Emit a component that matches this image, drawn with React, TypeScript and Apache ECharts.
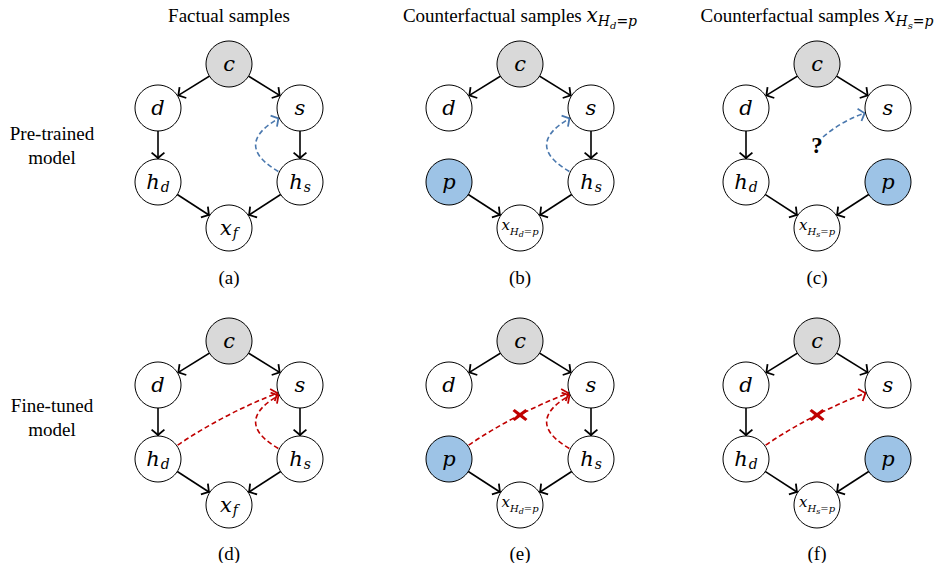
import React, { useEffect, useRef } from "react";
import * as echarts from "echarts";

const W = 941;
const H = 563;

// ---------- texts ----------
const columnTitles = [
  "Factual samples",
  "Counterfactual samples {mx|x}{ms|H}{mss|d}{ms|=p}",
  "Counterfactual samples {mx|x}{ms|H}{mss|s}{ms|=p}",
];
const rowNames = ["Pre-trained\nmodel", "Fine-tuned\nmodel"];
const panelTags = ["(a)", "(b)", "(c)", "(d)", "(e)", "(f)"];

// node label keys -> rich strings
const nodeLabels: Record<string, string> = {
  c: "{v|c}",
  d: "{v|d}",
  s: "{v|s}",
  p: "{v|p}",
  hd: "{v|h}{s|d}",
  hs: "{v|h}{s|s}",
  xf: "{v|x}{s|f}",
  xd: "{sv|x}{ss|H}{sss|d}{ss|=p}",
  xs: "{sv|x}{ss|H}{sss|s}{ss|=p}",
  q: "{q|?}",
};

// ---------- graph structure (data) ----------
// [id, slot, label key, fill key]
type NodeDef = [string, string, string, string];
// [from, to, kind, curveness]
type EdgeDef = [string, string, string, number];

const panelNodes: NodeDef[][] = [
  [["c", "top", "c", "gray"], ["d", "upLeft", "d", "white"], ["s", "upRight", "s", "white"], ["hd", "lowLeft", "hd", "white"], ["hs", "lowRight", "hs", "white"], ["x", "bottom", "xf", "white"]],
  [["c", "top", "c", "gray"], ["d", "upLeft", "d", "white"], ["s", "upRight", "s", "white"], ["p", "lowLeft", "p", "blue"], ["hs", "lowRight", "hs", "white"], ["x", "bottom", "xd", "white"]],
  [["c", "top", "c", "gray"], ["d", "upLeft", "d", "white"], ["s", "upRight", "s", "white"], ["hd", "lowLeft", "hd", "white"], ["p", "lowRight", "p", "blue"], ["x", "bottom", "xs", "white"], ["q", "query", "q", "none"]],
  [["c", "top", "c", "gray"], ["d", "upLeft", "d", "white"], ["s", "upRight", "s", "white"], ["hd", "lowLeft", "hd", "white"], ["hs", "lowRight", "hs", "white"], ["x", "bottom", "xf", "white"]],
  [["c", "top", "c", "gray"], ["d", "upLeft", "d", "white"], ["s", "upRight", "s", "white"], ["p", "lowLeft", "p", "blue"], ["hs", "lowRight", "hs", "white"], ["x", "bottom", "xd", "white"]],
  [["c", "top", "c", "gray"], ["d", "upLeft", "d", "white"], ["s", "upRight", "s", "white"], ["hd", "lowLeft", "hd", "white"], ["p", "lowRight", "p", "blue"], ["x", "bottom", "xs", "white"]],
];

const panelEdges: EdgeDef[][] = [
  [["c", "d", "solid", 0], ["c", "s", "solid", 0], ["d", "hd", "solid", 0], ["s", "hs", "solid", 0], ["hd", "x", "solid", 0], ["hs", "x", "solid", 0], ["hs", "s", "blue", 1.2]],
  [["c", "d", "solid", 0], ["c", "s", "solid", 0], ["s", "hs", "solid", 0], ["p", "x", "solid", 0], ["hs", "x", "solid", 0], ["hs", "s", "blue", 1.2]],
  [["c", "d", "solid", 0], ["c", "s", "solid", 0], ["d", "hd", "solid", 0], ["hd", "x", "solid", 0], ["p", "x", "solid", 0], ["q", "s", "blue", 0.15]],
  [["c", "d", "solid", 0], ["c", "s", "solid", 0], ["d", "hd", "solid", 0], ["s", "hs", "solid", 0], ["hd", "x", "solid", 0], ["hs", "x", "solid", 0], ["hd", "s", "red", 0.08], ["hs", "s", "red", 1.2]],
  [["c", "d", "solid", 0], ["c", "s", "solid", 0], ["s", "hs", "solid", 0], ["p", "x", "solid", 0], ["hs", "x", "solid", 0], ["p", "s", "red", 0.08], ["hs", "s", "red", 1.2]],
  [["c", "d", "solid", 0], ["c", "s", "solid", 0], ["d", "hd", "solid", 0], ["hd", "x", "solid", 0], ["p", "x", "solid", 0], ["hd", "s", "red", 0.08]],
];

// panels that carry a "blocked" cross on their red edge
const crossedPanels = [false, false, false, false, true, true];

// ---------- layout (not data) ----------
const columnCenters = [229, 520, 817];
const rowOrigins = [64, 341];
const tagRows = [277, 553];
const titleY = 15;
const rowLabelCenters = [145, 417];
const slotOffsets: Record<string, [number, number]> = {
  top: [0, 0],
  upLeft: [-71, 44],
  upRight: [71, 44],
  lowLeft: [-71, 118],
  lowRight: [71, 118],
  bottom: [0, 164],
  query: [6, 73],
  cross: [0, 74],
};

const fills: Record<string, string> = {
  gray: "#d9d9d9",
  blue: "#9dc3e6",
  white: "#ffffff",
  none: "rgba(0,0,0,0)",
};

const edgeStyles: Record<string, any> = {
  solid: { color: "#000000", width: 1.6, type: "solid", opacity: 1 },
  blue: { color: "#4a78ae", width: 1.6, type: [5, 3], opacity: 1 },
  red: { color: "#c00000", width: 1.6, type: [5, 3], opacity: 1 },
};

const ARROW = "path://M6,6 L12,11.2 L11,12.4 L6,8.1 L1,12.4 L0,11.2 Z M6,0 L6.01,0 L6,0.01 Z";
const CROSS = "path://M0,2 L2,0 L7,4 L12,0 L14,2 L9.5,6 L14,10 L12,12 L7,8 L2,12 L0,10 L4.5,6 Z";

const MATH = "DejaVu Serif";
const SERIF = "Liberation Serif";

const nodeRich = {
  v: { fontFamily: MATH, fontStyle: "italic", fontSize: 21, lineHeight: 24, color: "#000" },
  s: { fontFamily: MATH, fontStyle: "italic", fontSize: 14, lineHeight: 14, padding: [10, 0, 0, 1], color: "#000" },
  sv: { fontFamily: MATH, fontStyle: "italic", fontSize: 15, lineHeight: 16, padding: [0, 0, 6, 0], color: "#000" },
  ss: { fontFamily: MATH, fontStyle: "italic", fontSize: 10, lineHeight: 10, padding: [6, 0, 0, 0], color: "#000" },
  sss: { fontFamily: MATH, fontStyle: "italic", fontSize: 8, lineHeight: 8, padding: [12, 0, 0, 0], color: "#000" },
  q: { fontFamily: SERIF, fontWeight: "bold", fontSize: 23, lineHeight: 24, color: "#000" },
};

const titleRich = {
  t: { fontFamily: SERIF, fontSize: 19, lineHeight: 22, fill: "#000", color: "#000" },
  mx: { fontFamily: MATH, fontStyle: "italic", fontSize: 20, lineHeight: 22, fill: "#000", color: "#000" },
  ms: { fontFamily: MATH, fontStyle: "italic", fontSize: 14, lineHeight: 14, padding: [12, 0, 0, 0], fill: "#000", color: "#000" },
  mss: { fontFamily: MATH, fontStyle: "italic", fontSize: 10, lineHeight: 10, padding: [20, 0, 0, 0], fill: "#000", color: "#000" },
};

function buildOption() {
  const series: any[] = [];
  const crossData: number[][] = [];

  panelNodes.forEach((nodesDef, i) => {
    const col = i % 3;
    const row = Math.floor(i / 3);
    const ox = columnCenters[col];
    const oy = rowOrigins[row];
    const data = nodesDef.map(([id, slot, labelKey, fillKey]) => {
      const [dx, dy] = slotOffsets[slot];
      const isQ = id === "q";
      return {
        id,
        name: id,
        value: [ox + dx, oy + dy],
        symbol: "circle",
        symbolSize: isQ ? 2 : 46,
        itemStyle: isQ
          ? { color: fills.none, borderWidth: 0 }
          : { color: fills[fillKey], borderColor: "#000", borderWidth: 1 },
        label: {
          show: true,
          position: "inside",
          offset: isQ ? [-6, 8] : [0, 0],
          formatter: () => nodeLabels[labelKey],
          rich: nodeRich,
        },
      };
    });
    const links = panelEdges[i].map(([a, b, kind, curv]) => ({
      source: a,
      target: b,
      lineStyle: { ...edgeStyles[kind], curveness: curv },
    }));
    series.push({
      type: "graph",
      layout: "none",
      coordinateSystem: "cartesian2d",
      xAxisIndex: 0,
      yAxisIndex: 0,
      silent: true,
      roam: false,
      edgeSymbol: ["none", ARROW],
      edgeSymbolSize: [1, 14],
      data,
      links,
      z: 2,
    });
    if (crossedPanels[i]) {
      const [cx, cy] = slotOffsets.cross;
      crossData.push([ox + cx, oy + cy]);
    }
  });

  series.push({
    type: "scatter",
    xAxisIndex: 0,
    yAxisIndex: 0,
    silent: true,
    symbol: CROSS,
    symbolSize: [15, 12],
    itemStyle: { color: "#c00000", opacity: 1 },
    data: crossData,
    z: 5,
  });

  const graphic: any[] = [];
  columnTitles.forEach((t, col) => {
    const parts = t.replace(/^([^{]+)/, "{t|$1}");
    graphic.push({
      type: "text",
      x: columnCenters[col],
      y: titleY,
      silent: true,
      style: {
        text: parts,
        rich: titleRich,
        align: "center",
        verticalAlign: "middle",
        fill: "#000",
        fontFamily: SERIF,
        fontSize: 19,
      },
    });
  });
  rowNames.forEach((t, r) => {
    graphic.push({
      type: "text",
      x: 52,
      y: rowLabelCenters[r],
      silent: true,
      style: {
        text: t,
        align: "center",
        verticalAlign: "middle",
        fill: "#000",
        fontFamily: SERIF,
        fontSize: 19,
        lineHeight: 24,
      },
    });
  });
  panelTags.forEach((t, i) => {
    graphic.push({
      type: "text",
      x: columnCenters[i % 3],
      y: tagRows[Math.floor(i / 3)],
      silent: true,
      style: {
        text: t,
        align: "center",
        verticalAlign: "middle",
        fill: "#000",
        fontFamily: SERIF,
        fontSize: 19,
      },
    });
  });

  return {
    animation: false,
    backgroundColor: "#ffffff",
    grid: { left: 0, right: 0, top: 0, bottom: 0, containLabel: false },
    xAxis: { type: "value", min: 0, max: W, show: false },
    yAxis: { type: "value", min: 0, max: H, inverse: true, show: false },
    series,
    graphic,
  };
}

export default function App() {
  const ref = useRef<HTMLDivElement>(null);
  useEffect(() => {
    if (!ref.current) return;
    const chart = echarts.init(ref.current, null, { renderer: "svg" });
    chart.setOption(buildOption() as any);
    return () => chart.dispose();
  }, []);
  return (
    <div
      ref={ref}
      style={{ position: "fixed", left: 0, top: 0, width: W, height: H, background: "#fff" }}
    />
  );
}
